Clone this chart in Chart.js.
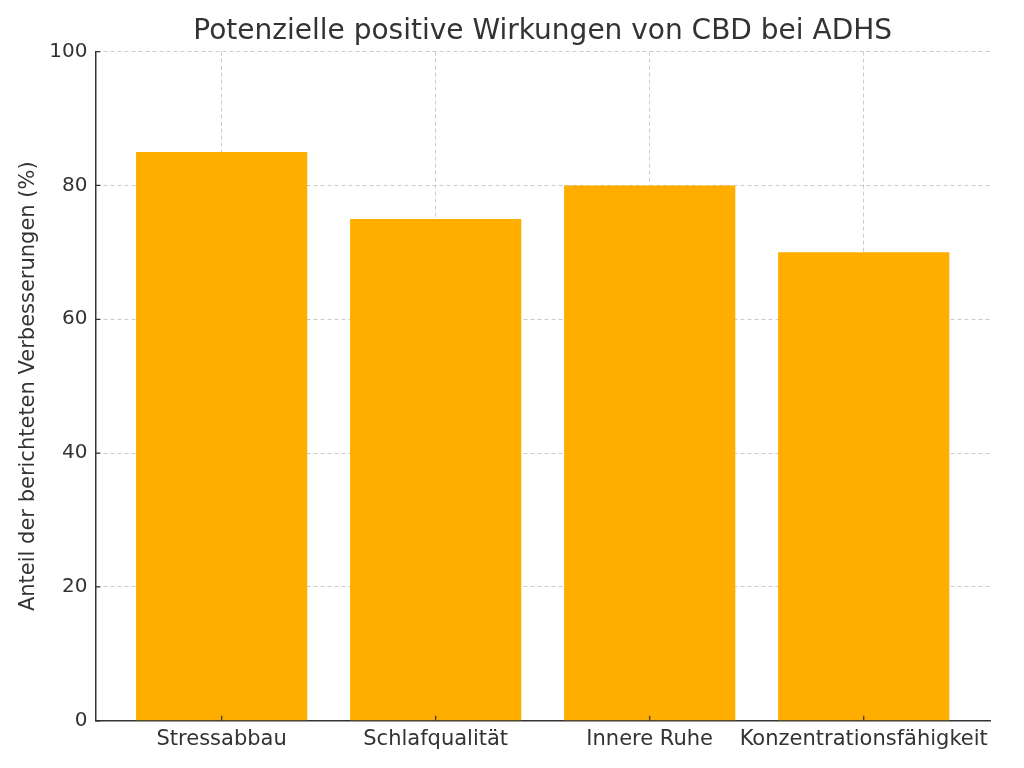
<!DOCTYPE html>
<html>
<head>
<meta charset="utf-8">
<script src="https://cdn.jsdelivr.net/npm/chart.js@4/dist/chart.umd.min.js"></script>
<style>
  html, body { margin: 0; padding: 0; background: #fff; }
  #wrap { width: 1024px; height: 768px; }
</style>
</head>
<body>
<div id="wrap"><canvas id="cbdChart"></canvas></div>
<script>
var categories = ["Stressabbau", "Schlafqualität", "Innere Ruhe", "Konzentrationsfähigkeit"];
var improvements = [85, 75, 80, 70];
var yTicks = [0, 20, 40, 60, 80, 100];

var textColor = '#333333';
var axisColor = '#333333';

// small inward tick marks like the original
var innerTicks = {
     id: 'innerTicks',
     afterDatasetsDraw: function(chart) {
          var ctx = chart.ctx;
          var area = chart.chartArea;
          var xs = chart.scales.x, ys = chart.scales.y;
          ctx.save();
          ctx.strokeStyle = axisColor;
          ctx.lineWidth = 1.2;
          ctx.beginPath();
          ys.ticks.forEach(function(t) {
               var py = ys.getPixelForValue(t.value);
               ctx.moveTo(area.left, py);
               ctx.lineTo(area.left + 5, py);
          });
          xs.ticks.forEach(function(t) {
               var px = xs.getPixelForValue(t.value);
               ctx.moveTo(px, area.bottom);
               ctx.lineTo(px, area.bottom - 5);
          });
          ctx.stroke();
          ctx.restore();
     }
};

new Chart('cbdChart', {
     type: 'bar',
     data: {
          datasets: [
               {
                    data: improvements.map(function(v, i) { return { x: i, y: v }; }),
                    backgroundColor: '#FFAE00',
                    hoverBackgroundColor: '#FFAE00',
                    borderWidth: 0,
                    barPercentage: 0.8,
                    categoryPercentage: 1.0
               }
          ]
     },
     options: {
          responsive: true,
          maintainAspectRatio: false,
          animation: false,
          layout: { padding: { left: 16, right: 34, top: 0, bottom: 10 } },
          plugins: {
               legend: { display: false },
               tooltip: { enabled: false },
               title: {
                    display: true,
                    text: 'Potenzielle positive Wirkungen von CBD bei ADHS',
                    color: textColor,
                    fullSize: false,
                    font: { family: 'DejaVu Sans', size: 28, weight: 'normal' },
                    padding: { top: 15, bottom: 3 }
               }
          },
          scales: {
               x: {
                    type: 'linear',
                    min: -0.59,
                    max: 3.59,
                    offset: false,
                    afterBuildTicks: function(scale) {
                         scale.ticks = categories.map(function(c, i) { return { value: i }; });
                    },
                    grid: {
                         offset: false,
                         color: 'rgba(190,190,190,0.8)',
                         lineWidth: 1,
                         drawTicks: false
                    },
                    border: { display: true, color: axisColor, width: 1.5, dash: [4, 3] },
                    ticks: {
                         color: textColor,
                         padding: 6,
                         maxRotation: 0,
                         autoSkip: false,
                         font: { family: 'DejaVu Sans', size: 21 },
                         callback: function(v) { return categories[v]; }
                    }
               },
               y: {
                    min: 0,
                    max: 100,
                    afterBuildTicks: function(scale) {
                         scale.ticks = yTicks.map(function(v) { return { value: v }; });
                    },
                    grid: {
                         color: 'rgba(190,190,190,0.8)',
                         lineWidth: 1,
                         drawTicks: false
                    },
                    border: { display: true, color: axisColor, width: 1.5, dash: [4, 3] },
                    ticks: {
                         color: textColor,
                         padding: 8,
                         font: { family: 'DejaVu Sans', size: 20 }
                    },
                    title: {
                         display: true,
                         text: 'Anteil der berichteten Verbesserungen (%)',
                         color: textColor,
                         font: { family: 'DejaVu Sans', size: 21 },
                         padding: { top: 0, bottom: 0 }
                    }
               }
          }
     },
     plugins: [innerTicks]
});
</script>
</body>
</html>
